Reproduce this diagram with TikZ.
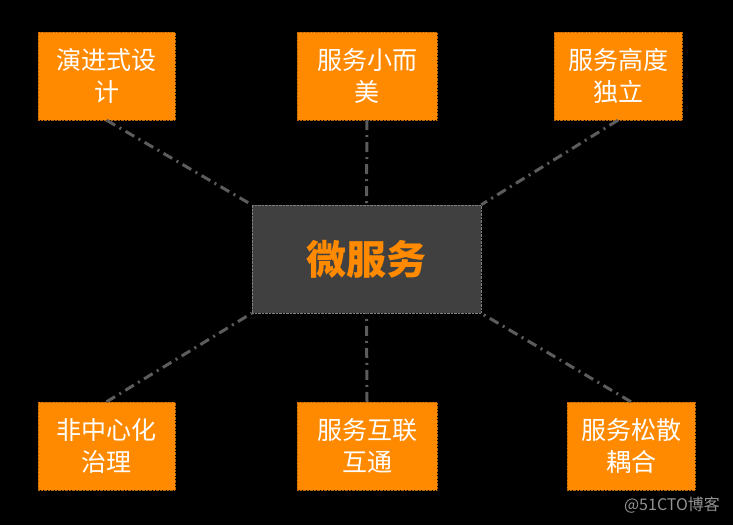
\documentclass[tikz,border=0pt]{standalone}
\usepackage{fontspec}
\newfontfamily\cjk{Noto Sans CJK SC}
\definecolor{boxorange}{RGB}{255,138,0}
\definecolor{coregray}{RGB}{64,64,64}
\definecolor{linegray}{RGB}{92,92,92}
\begin{document}
\begin{tikzpicture}[x=1pt, y=-1pt, font=\cjk, line join=round,
		leaf/.style={fill=boxorange, draw=boxorange!75!black, densely dotted, text=white, minimum height=88pt, inner sep=0pt, align=center, font=\cjk\fontsize{25}{32}\selectfont},
		core/.style={fill=coregray, draw=gray, densely dotted, text=boxorange, minimum width=229pt, minimum height=108pt, font=\cjk\bfseries\fontsize{40}{46}\selectfont},
		link/.style={draw=linegray, line width=3pt, line cap=butt, dash pattern=on 10pt off 5pt on 2pt off 5pt}]
		\fill[black] (0,0) rectangle (733,525);
		\useasboundingbox (0,0) rectangle (733,525);
		% center
		\node[core] (ms) at (366.5,259) {微服务};
		% top row
		\node[leaf, minimum width=137pt] (evo) at (106.5,76) {演进式设\\计};
		\node[leaf, minimum width=140pt] (small) at (367,76) {服务小而\\美};
		\node[leaf, minimum width=128pt] (indep) at (618,76) {服务高度\\独立};
		% bottom row
		\node[leaf, minimum width=137pt] (decent) at (106.5,446) {非中心化\\治理};
		\node[leaf, minimum width=140pt] (inter) at (367,446) {服务互联\\互通};
		\node[leaf, minimum width=128pt] (loose) at (631,446) {服务松散\\耦合};
		% links
		\draw[link] (evo.south) -- (ms.north west);
		\draw[link] (small.south) -- (ms.north);
		\draw[link] (indep.south) -- (ms.north east);
		\draw[link] (decent.north) -- (ms.south west);
		\draw[link] (inter.north) -- (ms.south);
		\draw[link] (loose.north) -- (ms.south east);
		% watermark
		\node[text=gray!85, font=\cjk\fontsize{16}{18}\selectfont] (mark) at (672,505) {@51CTO博客};
\end{tikzpicture}
\end{document}
